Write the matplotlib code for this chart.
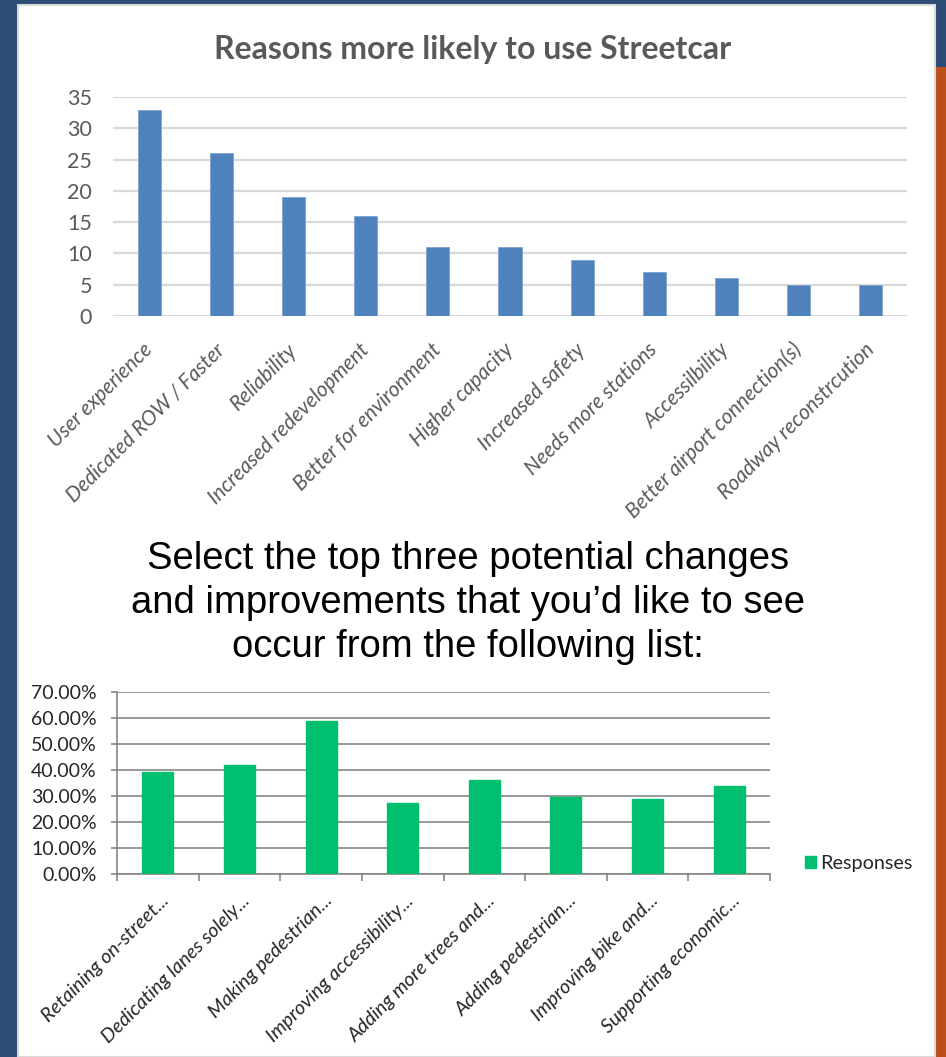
import matplotlib
matplotlib.use("Agg")
import matplotlib.pyplot as plt
from matplotlib.patches import Rectangle
from matplotlib.transforms import ScaledTranslation
import numpy as np

# ---------------- data ----------------
reasons = ["User experience", "Dedicated ROW / Faster", "Reliability",
           "Increased redevelopment", "Better for environment", "Higher capacity",
           "Increased safety", "Needs more stations", "Accessilbility",
           "Better airport connection(s)", "Roadway reconstrcution"]
reason_counts = [33, 26, 19, 16, 11, 11, 9, 7, 6, 5, 5]
reason_ticks = [0, 5, 10, 15, 20, 25, 30, 35]

changes = ["Retaining on-street...", "Dedicating lanes solely...", "Making pedestrian...",
           "Improving accessibility...", "Adding more trees and...", "Adding pedestrian...",
           "Improving bike and...", "Supporting economic..."]
change_pct = [39.4, 41.8, 58.8, 27.3, 36.4, 29.5, 28.9, 34.0]
pct_ticks = [0, 10, 20, 30, 40, 50, 60, 70]
legend_label = "Responses"

title_top = "Reasons more likely to use Streetcar"
title_mid = ("Select the top three potential changes\n"
             "and improvements that you\u2019d like to see\n"
             "occur from the following list:")

W, H = 946, 1057
fig = plt.figure(figsize=(W / 100, H / 100), dpi=100)
fig.patch.set_facecolor("#2C4C74")

def fx(px):
    return px / W

def fy(py):
    return 1 - py / H

# slide decoration (behind everything)
fig.patches.append(Rectangle((fx(935), 0), fx(11), fy(67), transform=fig.transFigure,
                             facecolor="#BE4F1C", edgecolor="none", zorder=-2))
fig.patches.append(Rectangle((fx(18), 0), fx(935 - 18), fy(5), transform=fig.transFigure,
                             facecolor="white", edgecolor="#D9D9D9", linewidth=1.5, zorder=-1))

# ---------------- top chart ----------------
ax1 = fig.add_axes([fx(113), fy(316), fx(907 - 113), (316 - 97) / H])
ax1.set_zorder(2)
ax1.set_facecolor("none")
x1 = np.arange(len(reasons))
ax1.bar(x1, reason_counts, width=0.32, color="#4F81BD", edgecolor="#7FA3D3",
        linewidth=0.6, zorder=3)
ax1.set_xlim(-0.5, len(reasons) - 0.5)
ax1.set_ylim(0, 35)
ax1.set_yticks(reason_ticks)
ax1.yaxis.grid(True, color="#D9D9D9", linewidth=1.6, zorder=0)
ax1.set_axisbelow(True)
for s in ax1.spines.values():
    s.set_visible(False)
ax1.tick_params(axis="y", length=0, pad=15, labelsize=15.5, labelcolor="#595959")
ax1.tick_params(axis="x", length=0, pad=22)
for lab in ax1.get_yticklabels():
    lab.set_fontfamily("Lato")
ax1.set_xticks(x1)
ax1.set_xticklabels(reasons, rotation=45, ha="right", va="center", rotation_mode="anchor",
                    fontsize=15, color="#595959", fontstyle="italic", family="Lato")

fig.text(fx(473), fy(50), title_top, ha="center", va="center", fontsize=23,
         fontweight="bold", color="#595959", family="Lato")

# ---------------- middle title ----------------
fig.text(fx(468), fy(603), title_mid, ha="center", va="center", fontsize=27.5,
         color="black", family="Liberation Sans", linespacing=1.3)

# ---------------- bottom chart ----------------
ax2 = fig.add_axes([fx(117), fy(874.3), fx(770 - 117), (874.3 - 692) / H])
ax2.set_zorder(2)
ax2.set_facecolor("none")
x2 = np.arange(len(changes))
ax2.bar(x2, change_pct, width=0.38, color="#00BF6F", edgecolor="#00BF6F",
        zorder=3, label=legend_label)
ax2.set_xlim(-0.5, len(changes) - 0.5)
ax2.set_ylim(0, 70)
ax2.set_yticks(pct_ticks)
ax2.set_yticklabels([f"{v:.2f}%" for v in pct_ticks])
ax2.yaxis.grid(True, color="#868686", linewidth=1.2, zorder=0)
ax2.set_axisbelow(True)
for side in ["top", "right"]:
    ax2.spines[side].set_visible(False)
for side in ["left", "bottom"]:
    ax2.spines[side].set_color("#868686")
    ax2.spines[side].set_linewidth(1.2)
ax2.tick_params(axis="y", length=4.5, width=1.2, color="#868686", pad=10,
                labelsize=14, labelcolor="#262626")
for lab in ax2.get_yticklabels():
    lab.set_fontfamily("Lato")
ax2.set_xticks(np.arange(len(changes) + 1) - 0.5, minor=True)
ax2.tick_params(axis="x", which="minor", length=5, width=1.2, color="#868686")
ax2.set_xticks(x2)
ax2.tick_params(axis="x", which="major", length=0, pad=17)
ax2.set_xticklabels(changes, rotation=45, ha="right", va="center", rotation_mode="anchor",
                    fontsize=14.2, color="#262626", fontstyle="italic", family="Lato")
shift = ScaledTranslation(8 / 100, 0, fig.dpi_scale_trans)
for lab in ax2.get_xticklabels():
    lab.set_transform(lab.get_transform() + shift)

leg = ax2.legend(loc="center left",
                 bbox_to_anchor=((805 - 117) / (770 - 117), (874.3 - 864) / (874.3 - 692)),
                 frameon=False, fontsize=14.3, handlelength=0.55, handleheight=0.55,
                 handletextpad=0.2, borderaxespad=0, borderpad=0)
for t in leg.get_texts():
    t.set_fontfamily("Lato")
    t.set_color("#262626")

fig.savefig("out.png", dpi=100, facecolor=fig.get_facecolor())
